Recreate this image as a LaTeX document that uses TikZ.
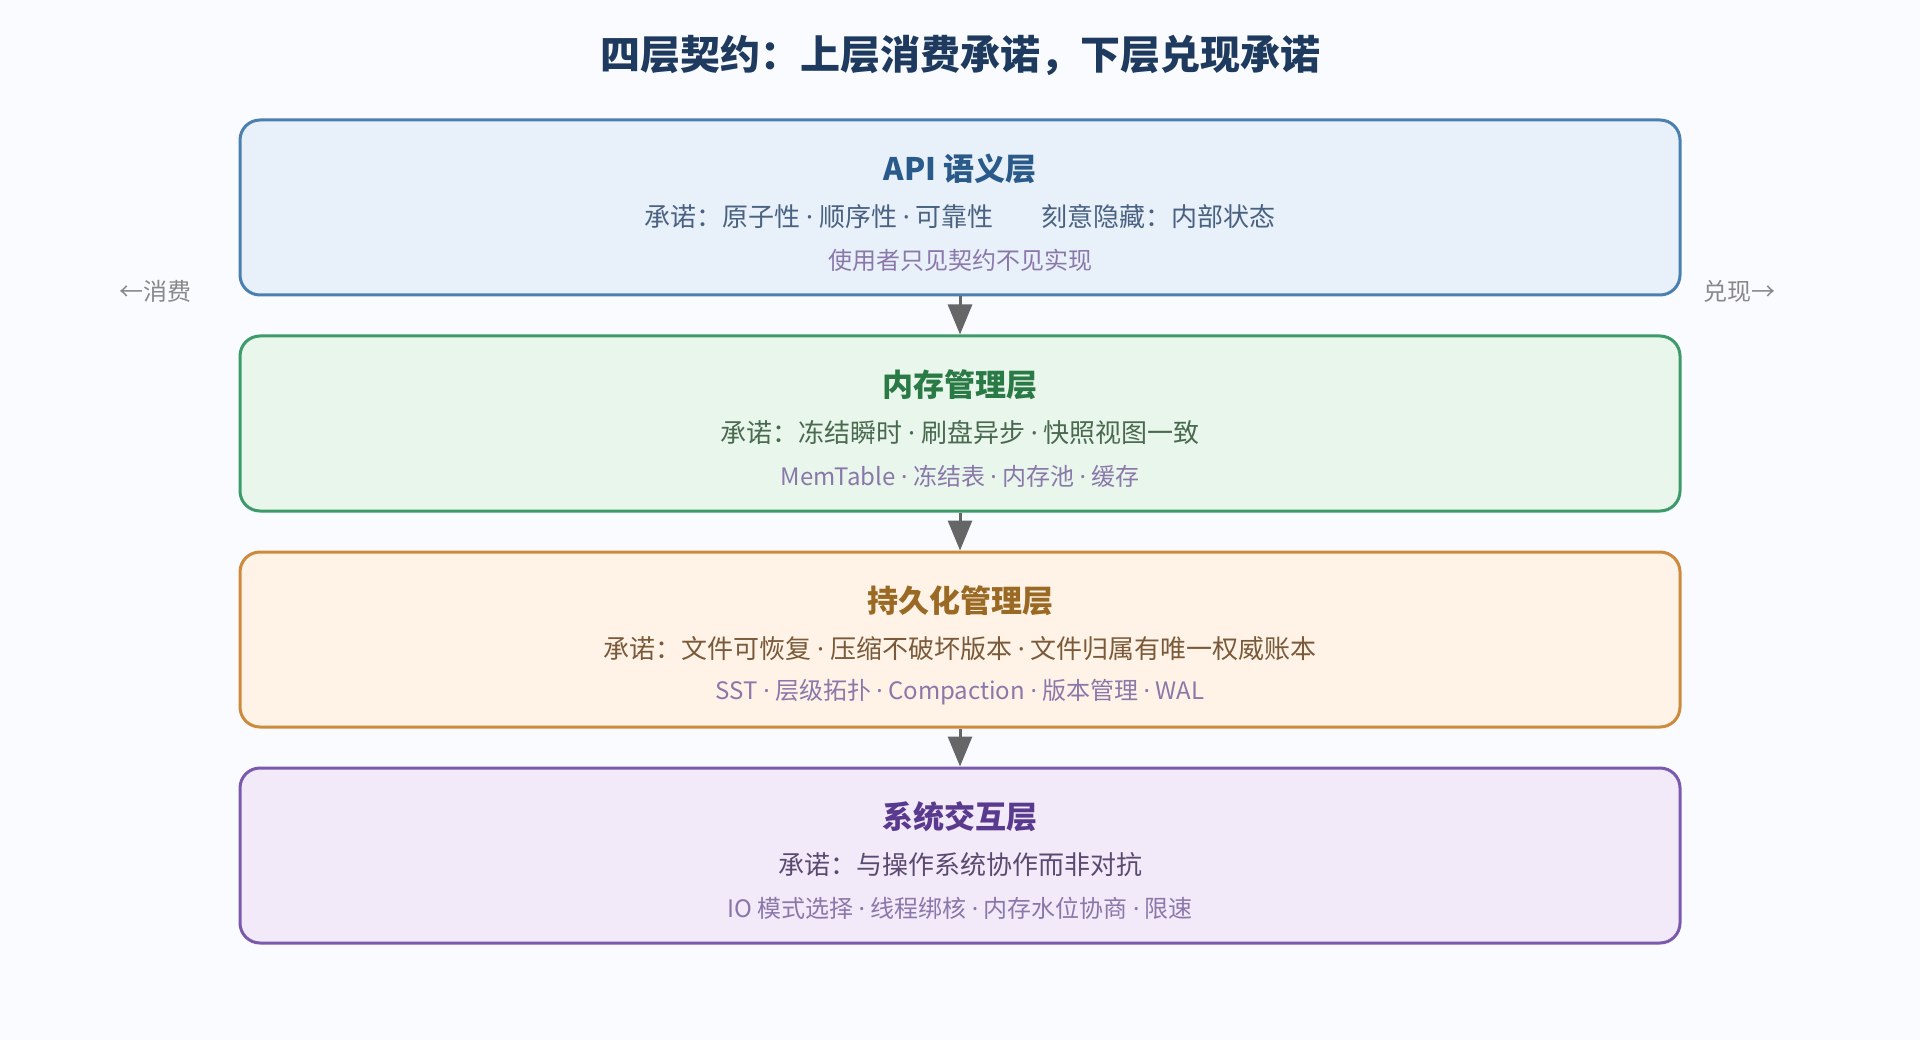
\documentclass[tikz,border=0pt]{standalone}
\usepackage{fontspec}
\setmainfont{Noto Sans CJK SC}
\newfontfamily\latinfont{Noto Sans}
\newcommand{\dotsep}{ {\latinfont ·} }
\usepackage{tikz}
\usetikzlibrary{arrows.meta}

\definecolor{bgcol}{HTML}{F9FBFE}
\definecolor{titlecol}{HTML}{1E3A5F}
\definecolor{notecol}{HTML}{8A78AA}
\definecolor{sidecol}{HTML}{888888}
\definecolor{arrowcol}{HTML}{666666}
\definecolor{apiline}{HTML}{4A7FB0}
\definecolor{apifill}{HTML}{E8F0F9}
\definecolor{apihead}{HTML}{2A5A8A}
\definecolor{apitext}{HTML}{4A6282}
\definecolor{memline}{HTML}{3D9A6A}
\definecolor{memfill}{HTML}{E9F6EC}
\definecolor{memhead}{HTML}{2A7A45}
\definecolor{memtext}{HTML}{4A6A50}
\definecolor{perline}{HTML}{CD8A3C}
\definecolor{perfill}{HTML}{FEF3E6}
\definecolor{perhead}{HTML}{9A6A25}
\definecolor{pertext}{HTML}{7A5A3A}
\definecolor{sysline}{HTML}{7B5AAE}
\definecolor{sysfill}{HTML}{F2E9F9}
\definecolor{syshead}{HTML}{5A3A8E}
\definecolor{systext}{HTML}{5A4A70}

\begin{document}
\begin{tikzpicture}[x=1pt,y=-1pt,
	layer/.style={draw, rounded corners=20pt, line width=3pt, minimum width=1440pt, minimum height=175pt, inner sep=0pt},
	head/.style={font=\fontsize{31}{36}\selectfont\bfseries},
	promise/.style={font=\fontsize{26}{30}\selectfont},
	note/.style={font=\fontsize{24}{28}\selectfont, text=notecol},
	side/.style={font=\fontsize{24}{28}\selectfont, text=sidecol},
	flow/.style={-{Triangle[width=24pt,length=30pt]}, line width=3pt, draw=arrowcol}]

		\fill[bgcol] (0,0) rectangle (1920,1040);
		\useasboundingbox (0,0) rectangle (1920,1040);

		\node (title) [font=\fontsize{40}{46}\selectfont\bfseries, text=titlecol] at (960,55) {四层契约：上层消费承诺，下层兑现承诺};

		\node (api) [layer, draw=apiline, fill=apifill] at (960,207.5) {};
		\node (apiT) [head, text=apihead] at (960,169) {API 语义层};
		\node (apiP) [promise, text=apitext] at (960,217) {承诺：原子性\dotsep 顺序性\dotsep 可靠性\hspace{48pt}刻意隐藏：内部状态};
		\node (apiN) [note] at (960,260) {使用者只见契约不见实现};

		\node (mem) [layer, draw=memline, fill=memfill] at (960,423.5) {};
		\node (memT) [head, text=memhead] at (960,385) {内存管理层};
		\node (memP) [promise, text=memtext] at (960,433) {承诺：冻结瞬时\dotsep 刷盘异步\dotsep 快照视图一致};
		\node (memN) [note] at (960,476) {MemTable\dotsep 冻结表\dotsep 内存池\dotsep 缓存};

		\node (per) [layer, draw=perline, fill=perfill] at (960,639.5) {};
		\node (perT) [head, text=perhead] at (960,601) {持久化管理层};
		\node (perP) [promise, text=pertext] at (960,649) {承诺：文件可恢复\dotsep 压缩不破坏版本\dotsep 文件归属有唯一权威账本};
		\node (perN) [note] at (960,692) {SST\dotsep 层级拓扑\dotsep Compaction\dotsep 版本管理\dotsep WAL};

		\node (sys) [layer, draw=sysline, fill=sysfill] at (960,855.5) {};
		\node (sysT) [head, text=syshead] at (960,817) {系统交互层};
		\node (sysP) [promise, text=systext] at (960,865) {承诺：与操作系统协作而非对抗};
		\node (sysN) [note] at (960,908) {IO 模式选择\dotsep 线程绑核\dotsep 内存水位协商\dotsep 限速};

		\node (use) [side] at (155,291) {←消费};
		\node (keep) [side] at (1739,291) {兑现→};

		\draw[flow] (api.south) -- (mem.north);
		\draw[flow] (mem.south) -- (per.north);
		\draw[flow] (per.south) -- (sys.north);

	\end{tikzpicture}
\end{document}
